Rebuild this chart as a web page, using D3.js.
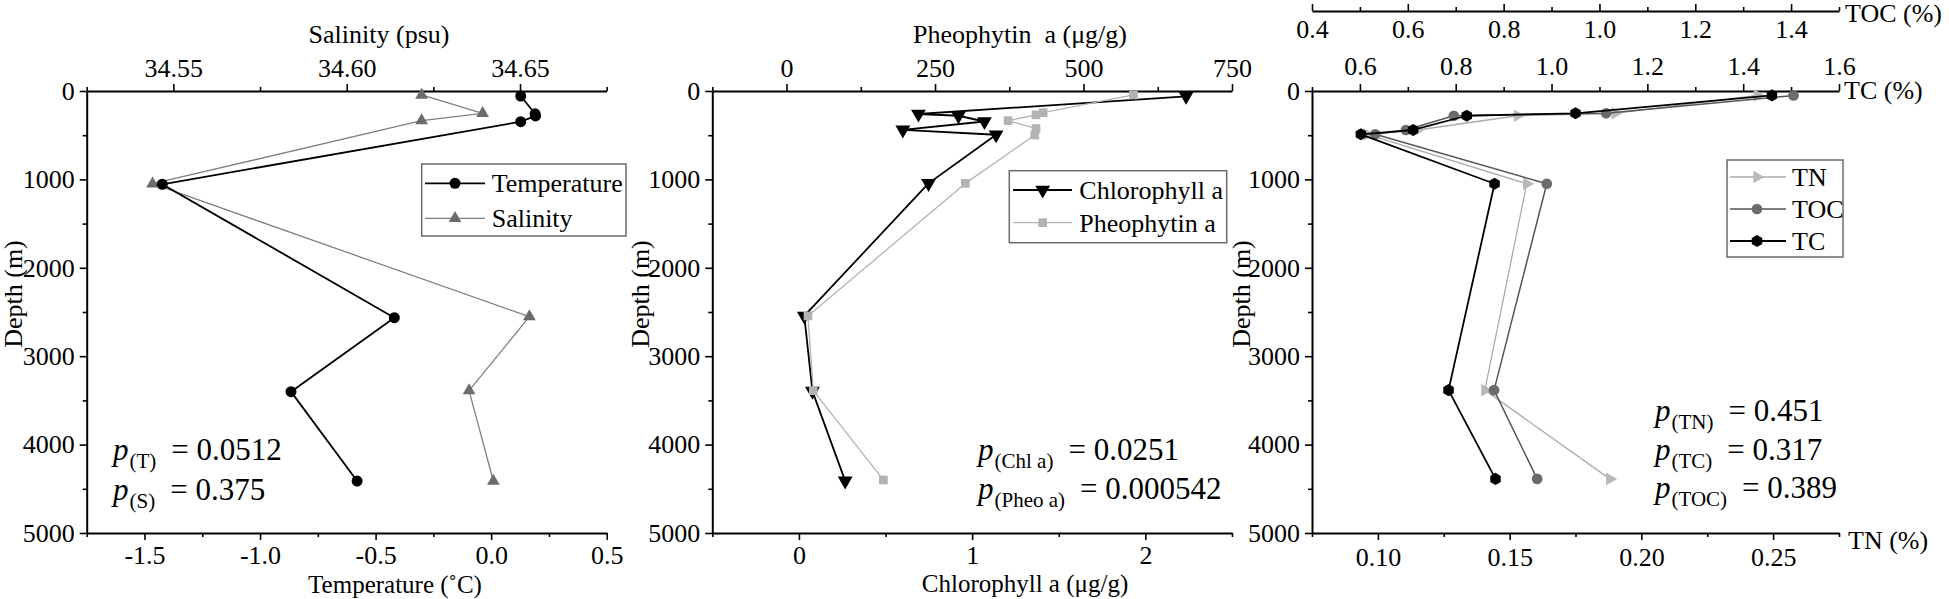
<!DOCTYPE html>
<html>
<head>
<meta charset="utf-8">
<script src="https://cdn.jsdelivr.net/npm/d3@7"></script>
<style>
  body { margin: 0; background: #fff; }
  svg { display: block; }
</style>
</head>
<body>
<svg id="chart"></svg>
<script>
'use strict'

// ---- data ----
// panel 1: temperature / salinity profiles
var tempDepth = [57, 258, 282, 347, 1055, 2564, 3401, 4412];
var tempValue = [0.128, 0.190, 0.192, 0.128, -1.423, -0.419, -0.866, -0.580];
var salDepth = [45, 252, 336, 1049, 2553, 3390, 4412];
var salValue = [34.6216, 34.6392, 34.6216, 34.5440, 34.6527, 34.6353, 34.6423];

// panel 2: pigments
var chlDepth = [60, 260, 280, 345, 440, 495, 1045, 2545, 3395, 4410];
var chlValue = [2.235, 0.690, 0.921, 1.071, 0.600, 1.138, 0.748, 0.031, 0.078, 0.267];
var pheoDepth = [45, 245, 270, 335, 425, 498, 1045, 2545, 3390, 4400];
var pheoValue = [584, 432, 420, 373, 420, 418, 301, 36, 45, 163];

// panel 3: carbon / nitrogen
var cnDepth = [50, 252, 280, 441, 490, 1049, 3384, 4388];
var tnValue = [0.244, 0.190, 0.153, 0.115, 0.096, 0.1565, 0.1406, 0.1880];
var tocValue = [1.405, 1.014, 0.696, 0.596, 0.532, 0.890, 0.780, 0.870];
var tcValue = [1.460, 1.050, 0.823, 0.711, 0.602, 0.881, 0.785, 0.883];

// ticks
var depthMajor = [0, 1000, 2000, 3000, 4000, 5000];
var depthMinor = [500, 1500, 2500, 3500, 4500];
var salMajor = [34.55, 34.60, 34.65];
var salMinor = [34.525, 34.575, 34.625, 34.675];
var tempMajor = [-1.5, -1.0, -0.5, 0.0, 0.5];
var tempMinor = [-1.75, -1.25, -0.75, -0.25, 0.25];
var pheoMajor = [0, 250, 500, 750];
var pheoMinor = [-125, 125, 375, 625];
var chlMajor = [0, 1, 2];
var chlMinor = [-0.5, 0.5, 1.5, 2.5];
var tocMajor = [0.4, 0.6, 0.8, 1.0, 1.2, 1.4];
var tocMinor = [0.5, 0.7, 0.9, 1.1, 1.3, 1.5];
var tcMajor = [0.6, 0.8, 1.0, 1.2, 1.4, 1.6];
var tcMinor = [0.5, 0.7, 0.9, 1.1, 1.3, 1.5];
var tnMajor = [0.10, 0.15, 0.20, 0.25];
var tnMinor = [0.075, 0.125, 0.175, 0.225, 0.275];

var WIDTH = 1949, HEIGHT = 599;
var TOP = 91, BOTTOM = 533;
var SERIF = "'Liberation Serif', 'Times New Roman', serif";

var svg = d3.select("#chart").attr("width", WIDTH).attr("height", HEIGHT);

var yDepth = d3.scaleLinear().domain([0, 5000]).range([TOP, BOTTOM]);

// panel x extents
var p1 = [86.7, 606.7], p2 = [712.3, 1232], p3 = [1312, 1839];

var xTemp = d3.scaleLinear().domain([-1.75, 0.5]).range(p1);
var xSal = d3.scaleLinear().domain([34.525, 34.675]).range(p1);
var xChl = d3.scaleLinear().domain([-0.5, 2.5]).range(p2);
var xPheo = d3.scaleLinear().domain([-125, 750]).range(p2);
var xTN = d3.scaleLinear().domain([0.075, 0.275]).range(p3);
var xTOC = d3.scaleLinear().domain([0.4, 1.5]).range(p3);
var xTC = d3.scaleLinear().domain([0.5, 1.6]).range(p3);

var fix = function(n) { return function(d) { return d.toFixed(n) } };

var symbolHexagon = {
	draw: function(ctx, size) {
		var r = Math.sqrt(size / (1.5 * Math.sqrt(3)));
		for (var i = 0; i < 6; i++) {
			var a = Math.PI / 3 * i - Math.PI / 2;
			if (i) ctx.lineTo(r * Math.cos(a), r * Math.sin(a));
			else ctx.moveTo(r * Math.cos(a), r * Math.sin(a));
		}
		ctx.closePath();
	}
};

// series styles
var sTemp = { type: d3.symbolCircle, size: 95, fill: "#000", line: "#000", lw: 1.8 };
var sSal = { type: d3.symbolTriangle, size: 70, fill: "#6b6b6b", line: "#808080", lw: 1.3 };
var sChl = { type: d3.symbolTriangle, size: 95, rot: 180, fill: "#000", line: "#000", lw: 1.8 };
var sPheo = { type: d3.symbolSquare, size: 75, fill: "#b3b3b3", line: "#b3b3b3", lw: 1.3 };
var sTN = { type: d3.symbolTriangle, size: 70, rot: 90, fill: "#b8b8b8", line: "#ababab", lw: 1.3 };
var sTOC = { type: d3.symbolCircle, size: 90, fill: "#6b6b6b", line: "#555", lw: 1.5 };
var sTC = { type: symbolHexagon, size: 95, fill: "#000", line: "#000", lw: 1.8 };

function drawAxis(maker, scale, transform, majors, minors, fmt, pad, inner) {
	var len = inner ? -7 : 7, lenMinor = inner ? -4 : 4;
	var g = svg.append("g").attr("transform", transform);
	g.call(maker(scale).tickValues(minors).tickFormat("").tickSizeInner(lenMinor).tickSizeOuter(0));
	g.select(".domain").remove();
	var gm = g.append("g").call(maker(scale).tickValues(majors).tickFormat(fmt)
		.tickSizeInner(len).tickSizeOuter(0).tickPadding(pad));
	g.selectAll(".domain").attr("stroke", "#000").attr("stroke-width", 2);
	g.selectAll(".tick line").attr("stroke", "#000").attr("stroke-width", 1.6);
	gm.attr("font-size", 26);
	gm.selectAll(".tick text").attr("fill", "#000").style("font-family", SERIF);
	return g;
}

function plotSeries(xScale, values, depths, st) {
	var pts = values.map(function(v, i) { return [xScale(v), yDepth(depths[i])] });
	svg.append("path")
		.attr("d", d3.line()(pts))
		.attr("fill", "none")
		.attr("stroke", st.line)
		.attr("stroke-width", st.lw)
		.attr("stroke-linejoin", "round");
	svg.append("g").selectAll("path")
		.data(pts)
		.join("path")
		.attr("d", d3.symbol(st.type, st.size)())
		.attr("transform", function(p) { return "translate(" + p[0] + "," + p[1] + ") rotate(" + (st.rot || 0) + ")" })
		.attr("fill", st.fill);
}

function legend(box, items, lineX, markX, textX) {
	svg.append("rect")
		.attr("x", box[0]).attr("y", box[1])
		.attr("width", box[2] - box[0]).attr("height", box[3] - box[1])
		.attr("fill", "#fff").attr("stroke", "#6a6a6a").attr("stroke-width", 1.5);
	items.forEach(function(it) {
		svg.append("line")
			.attr("x1", lineX[0]).attr("x2", lineX[1])
			.attr("y1", it.y).attr("y2", it.y)
			.attr("stroke", it.st.line).attr("stroke-width", it.st.lw);
		svg.append("path")
			.attr("d", d3.symbol(it.st.type, it.st.size)())
			.attr("transform", "translate(" + markX + "," + it.y + ") rotate(" + (it.st.rot || 0) + ")")
			.attr("fill", it.st.fill);
		svg.append("text")
			.attr("x", textX).attr("y", it.y + 9)
			.attr("font-size", 26)
			.style("font-family", SERIF)
			.text(it.label);
	});
}

function label(x, y, txt, anchor, rotate, size) {
	var t = svg.append("text")
		.attr("font-size", size || 26)
		.style("font-family", SERIF)
		.attr("text-anchor", anchor || "middle")
		.text(txt);
	if (rotate) t.attr("transform", "translate(" + x + "," + y + ") rotate(-90)");
	else t.attr("x", x).attr("y", y);
	return t;
}

function pValue(x, y, sub, val) {
	var t = svg.append("text").attr("x", x).attr("y", y)
		.attr("font-size", 31)
		.style("font-family", SERIF);
	t.append("tspan").attr("font-style", "italic").text("p");
	t.append("tspan").attr("font-size", 21).attr("dx", 1).attr("dy", 8).text(sub);
	t.append("tspan").attr("dx", 15).attr("dy", -8).text("= " + val);
}

// ---------------- panel 1 ----------------
drawAxis(d3.axisLeft, yDepth, "translate(" + p1[0] + ",0)", depthMajor, depthMinor, fix(0), 5);
drawAxis(d3.axisTop, xSal, "translate(0," + TOP + ")", salMajor, salMinor, fix(2), 7);
drawAxis(d3.axisBottom, xTemp, "translate(0," + BOTTOM + ")", tempMajor, tempMinor, fix(1), 6);
label(379, 43, "Salinity (psu)");
label(395, 593, "Temperature (\u02DAC)", "middle", false, 25);
label(22, 294, "Depth (m)", "middle", true);

plotSeries(xSal, salValue, salDepth, sSal);
plotSeries(xTemp, tempValue, tempDepth, sTemp);

legend([421.7, 164, 626, 236], [
	{ y: 183.3, st: sTemp, label: "Temperature" },
	{ y: 218.3, st: sSal, label: "Salinity" }
], [425, 485], 455, 491.7);

pValue(113, 460, "(T)", "0.0512");
pValue(113, 500, "(S)", "0.375");

// ---------------- panel 2 ----------------
drawAxis(d3.axisLeft, yDepth, "translate(" + p2[0] + ",0)", depthMajor, depthMinor, fix(0), 5);
drawAxis(d3.axisTop, xPheo, "translate(0," + TOP + ")", pheoMajor, pheoMinor, fix(0), 7);
drawAxis(d3.axisBottom, xChl, "translate(0," + BOTTOM + ")", chlMajor, chlMinor, fix(0), 6);
label(1020, 43, "Pheophytin\u00A0 a (\u03BCg/g)");
label(1025, 592, "Chlorophyll a (\u03BCg/g)", "middle", false, 25);
label(649, 294, "Depth (m)", "middle", true);

plotSeries(xChl, chlValue, chlDepth, sChl);
plotSeries(xPheo, pheoValue, pheoDepth, sPheo);

legend([1009.3, 170.7, 1226.7, 242.7], [
	{ y: 190, st: sChl, label: "Chlorophyll a" },
	{ y: 222.7, st: sPheo, label: "Pheophytin a" }
], [1013, 1072], 1042.7, 1079.3);

pValue(978, 460, "(Chl a)", "0.0251");
pValue(978, 499, "(Pheo a)", "0.000542");

// ---------------- panel 3 ----------------
drawAxis(d3.axisLeft, yDepth, "translate(" + p3[0] + ",0)", depthMajor, depthMinor, fix(0), 5);
drawAxis(d3.axisTop, xTC, "translate(0," + TOP + ")", tcMajor, tcMinor, fix(1), 9);
drawAxis(d3.axisBottom, xTOC, "translate(0,11)", tocMajor, tocMinor, fix(1), 9, true);
drawAxis(d3.axisBottom, xTN, "translate(0," + BOTTOM + ")", tnMajor, tnMinor, fix(2), 7.5);
label(1845, 22, "TOC (%)", "start");
label(1844, 99, "TC (%)", "start");
label(1848, 549, "TN (%)", "start");
label(1250, 294, "Depth (m)", "middle", true);

plotSeries(xTN, tnValue, cnDepth, sTN);
plotSeries(xTOC, tocValue, cnDepth, sTOC);
plotSeries(xTC, tcValue, cnDepth, sTC);

legend([1727, 160, 1843, 257], [
	{ y: 177, st: sTN, label: "TN" },
	{ y: 209, st: sTOC, label: "TOC" },
	{ y: 241, st: sTC, label: "TC" }
], [1730, 1786], 1757, 1792);

pValue(1655, 421, "(TN)", "0.451");
pValue(1655, 459.5, "(TC)", "0.317");
pValue(1655, 498, "(TOC)", "0.389");
</script>
</body>
</html>
